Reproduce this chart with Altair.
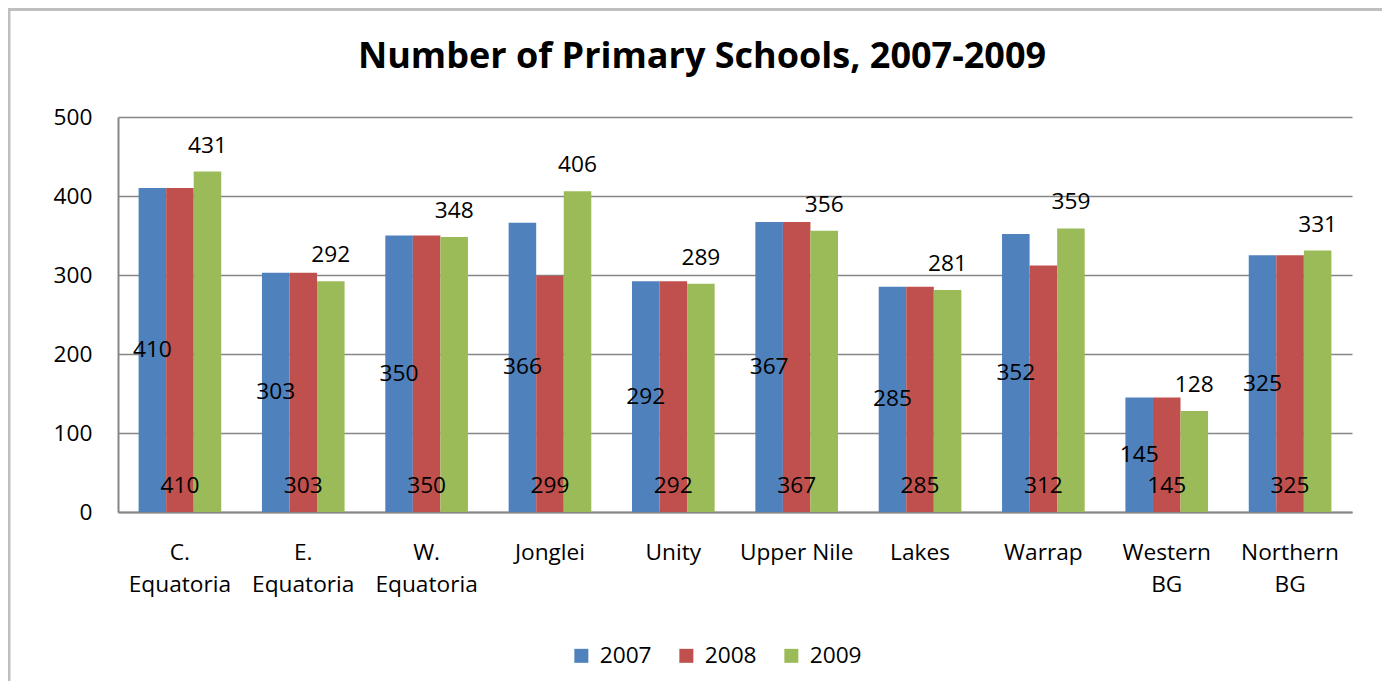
import altair as alt
import pandas as pd

regions = ["C.|Equatoria", "E.|Equatoria", "W.|Equatoria", "Jonglei", "Unity",
           "Upper Nile", "Lakes", "Warrap", "Western|BG", "Northern|BG"]
years = ["2007", "2008", "2009"]
v2007 = [410, 303, 350, 366, 292, 367, 285, 352, 145, 325]
v2008 = [410, 303, 350, 299, 292, 367, 285, 312, 145, 325]
v2009 = [431, 292, 348, 406, 289, 356, 281, 359, 128, 331]
colors = ["#4F81BD", "#C0504D", "#9BBB59"]

rows = []
for i, r in enumerate(regions):
    for y, vals in zip(years, [v2007, v2008, v2009]):
        rows.append({"region": r, "year": y, "value": vals[i]})
df = pd.DataFrame(rows)

FONT = "Open Sans"
FS = 22.7
W, H = 1234, 395
PL, PT = 110, 109

xaxis = alt.Axis(title=None, labelAngle=0, labelExpr="split(datum.label, '|')",
                 labelPadding=40, ticks=False, domainColor="#868686", domainWidth=2,
                 labelFontSize=FS, labelLineHeight=32, labelFont=FONT,
                 labelColor="black", grid=False, labelBaseline="middle")
yaxis = alt.Axis(title=None, values=[0, 100, 200, 300, 400, 500], ticks=False,
                 domainColor="#868686", domainWidth=2, gridColor="#868686",
                 gridWidth=1.5, labelPadding=26, labelFontSize=FS, labelFont=FONT,
                 labelColor="black")

xenc = alt.X("region:N", sort=regions,
             scale=alt.Scale(paddingInner=0.33, paddingOuter=0.167), axis=xaxis)
xoff = alt.XOffset("year:N", sort=years, scale=alt.Scale(domain=years))
yscale = alt.Scale(domain=[0, 500])

base = alt.Chart(df)

bars = base.mark_bar().encode(
    x=xenc, xOffset=xoff,
    y=alt.Y("value:Q", scale=yscale, axis=yaxis),
    color=alt.Color("year:N", scale=alt.Scale(domain=years, range=colors),
                    legend=alt.Legend(title=None, orient="none", legendX=452, legendY=527,
                                      direction="horizontal", symbolType="square",
                                      symbolSize=196, symbolStrokeWidth=0,
                                      labelFontSize=FS, labelFont=FONT,
                                      labelColor="black", columnPadding=23,
                                      labelOffset=7)),
)

t2007 = base.transform_filter("datum.year == '2007'").transform_calculate(
    pos="datum.value / 2").mark_text(fontSize=FS, font=FONT, baseline="middle",
                                     color="black").encode(
    x=xenc, xOffset=xoff, y=alt.Y("pos:Q", scale=yscale, axis=yaxis), text="value:Q")

t2008 = base.transform_filter("datum.year == '2008'").transform_calculate(
    pos="0").mark_text(fontSize=FS, font=FONT, baseline="middle", dy=-26,
                       color="black").encode(
    x=xenc, xOffset=xoff, y=alt.Y("pos:Q", scale=yscale, axis=yaxis), text="value:Q")

t2009 = base.transform_filter("datum.year == '2009'").mark_text(
    fontSize=FS, font=FONT, baseline="middle", dy=-26, color="black").encode(
    x=xenc, xOffset=xoff, y=alt.Y("value:Q", scale=yscale, axis=yaxis), text="value:Q")

frame_top = alt.Chart(pd.DataFrame({"a": [0]})).mark_rule(
    color="#BFBFBF", strokeWidth=3).encode(
    x=alt.value(-PL), x2=alt.value(W + 60), y=alt.value(-PT + 1.5))
frame_left = alt.Chart(pd.DataFrame({"a": [0]})).mark_rule(
    color="#BFBFBF", strokeWidth=3).encode(
    x=alt.value(-PL + 1), y=alt.value(-PT), y2=alt.value(H + 200))

chart = alt.layer(frame_top, frame_left, bars, t2007, t2008, t2009).properties(
    width=W, height=H,
    title=alt.TitleParams("Number of Primary Schools, 2007-2009", fontSize=36,
                          font=FONT, fontWeight="bold", anchor="middle",
                          frame="group", dx=-33, offset=-97, baseline="alphabetic",
                          color="black"),
    padding={"left": PL, "top": PT, "right": 30, "bottom": 169},
    autosize="none",
).configure_view(stroke=None)

chart.save("out.html", embed_options={"renderer": "svg", "actions": False})
